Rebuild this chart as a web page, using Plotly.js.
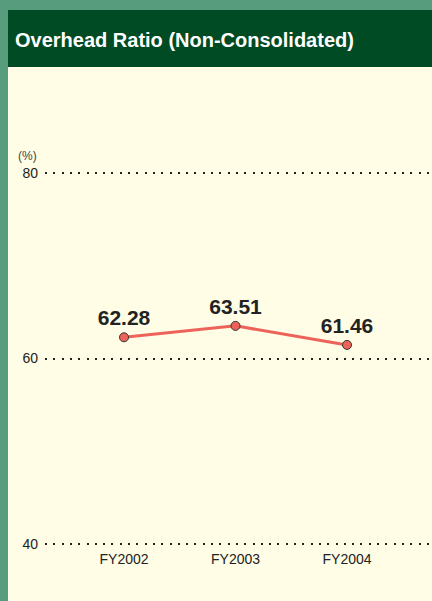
<!DOCTYPE html>
<html><head><meta charset="utf-8">
<script src="https://cdn.plot.ly/plotly-3.0.1.min.js"></script>
<style>
html,body{margin:0;padding:0;width:432px;height:601px;overflow:hidden;background:#579c7c;}
#frame{position:absolute;left:8px;top:10px;width:424px;height:591px;background:#fffde6;}
#hdr{position:absolute;left:8px;top:10px;width:424px;height:57px;background:#004a24;}
#chart{position:absolute;left:0;top:0;width:432px;height:601px;}
</style></head>
<body>
<div id="frame"></div><div id="hdr"></div>
<div id="chart"></div>
<script>
const categories = ["FY2002","FY2003","FY2004"];
const ratioValues = [62.28, 63.51, 61.46];
const labels = ["62.28","63.51","61.46"];
const yTicks = [40, 60, 80];

const trace = {
  x: categories, y: ratioValues, text: labels,
  type: 'scatter', mode: 'lines+markers+text',
  textposition: 'top center',
  textfont: {family: 'Liberation Sans, Arial, sans-serif', size: 21, color: '#222', weight: 'bold'},
  line: {color: '#ec6459', width: 3},
  marker: {size: 9, color: '#ec6459', line: {color: '#333', width: 1}},
  cliponaxis: false, hoverinfo: 'none'
};
const layout = {
  width: 432, height: 601,
  paper_bgcolor: 'rgba(0,0,0,0)', plot_bgcolor: 'rgba(0,0,0,0)',
  margin: {l: 45, r: 0, t: 168, b: 52},
  showlegend: false,
  title: {text: '<b>Overhead Ratio (Non-Consolidated)</b>', x: 15/432, xanchor: 'left', xref: 'container',
          y: 1 - 40/601, yanchor: 'middle', yref: 'container',
          font: {family: 'Liberation Sans, Arial, sans-serif', size: 20, color: '#ffffff'}},
  xaxis: {type: 'category', range: [-0.7085, 2.762], showgrid: false, zeroline: false, showline: false,
          ticks: '', tickfont: {family: 'Liberation Sans Narrow, Arial Narrow, sans-serif', size: 14, color: '#222'},
          fixedrange: true},
  yaxis: {range: [39.5, 80.5], tickvals: yTicks, ticktext: yTicks.map(String), showgrid: true,
          gridcolor: '#222', gridwidth: 2, griddash: '2px,6.3px', zeroline: false, showline: false, ticks: '',
          ticklabelstandoff: 6,
          tickfont: {family: 'Liberation Sans Narrow, Arial Narrow, sans-serif', size: 14, color: '#222'},
          fixedrange: true},
  annotations: [{text: '(%)', xref: 'paper', yref: 'paper', x: -0.075, y: 1.008, xanchor: 'left', yanchor: 'bottom',
                 showarrow: false, font: {family: 'Liberation Sans Narrow, Arial Narrow, sans-serif', size: 12, color: '#444'}}]
};
Plotly.newPlot('chart', [trace], layout, {displayModeBar: false, staticPlot: true});
</script>
</body></html>
